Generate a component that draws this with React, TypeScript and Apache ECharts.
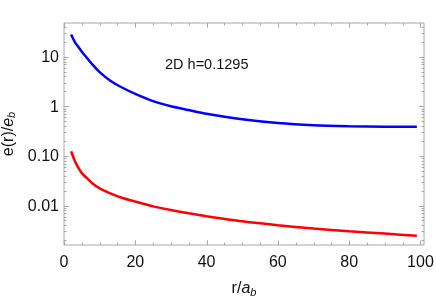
import React, { useEffect, useRef } from "react";
import * as echarts from "echarts";

// ---- data ----
const rValues = [2, 3, 4, 5, 6, 8, 10, 13, 16, 20, 25, 30, 35, 40, 50, 60, 70, 80, 90, 99];
const blueValues = [28, 20, 15.8, 12.6, 10.3, 6.9, 4.9, 3.28, 2.45, 1.78, 1.27, 1.0, 0.84, 0.71, 0.55, 0.462, 0.417, 0.397, 0.386, 0.385];
const redValues = [0.124, 0.08, 0.058, 0.045, 0.038, 0.0277, 0.0222, 0.0176, 0.0145, 0.012, 0.0096, 0.0081, 0.007, 0.0061, 0.0048, 0.004, 0.00345, 0.00302, 0.00272, 0.00245];

const xTickValues = [0, 20, 40, 60, 80, 100];
const yTickValues = [0.01, 0.1, 1, 10];
const yTickLabels = ["0.01", "0.10", "1", "10"];

const X_MIN = 0;
const X_MAX = 101;
const Y_MIN = 0.0016;
const Y_MAX = 47.8;

const annotation = "2D h=0.1295";

const FRAME = "#a6a6a6";
const FONT = "Liberation Sans";

export default function App() {
  const ref = useRef<HTMLDivElement>(null);
  useEffect(() => {
    if (!ref.current) return;
    const chart = echarts.init(ref.current, undefined, { renderer: "svg" });

    const xMinorTicks: number[] = [];
    for (let x = 0; x <= 100; x += 5) if (x % 20 !== 0) xMinorTicks.push(x);
    const yMinorTicks: number[] = [];
    for (let d = -3; d <= 1; d++) {
      for (let k = 2; k <= 9; k++) {
        const v = k * Math.pow(10, d);
        if (v > Y_MIN && v < Y_MAX) yMinorTicks.push(v);
      }
    }

    const seriesData = (ys: number[]) => rValues.map((r, i) => [r, ys[i]]);

    chart.setOption({
      animation: false,
      grid: {
        left: 64,
        right: 12,
        top: 23,
        bottom: 52,
        show: true,
        borderColor: FRAME,
        borderWidth: 1,
        containLabel: false,
        outerBoundsMode: "none",
      },
      xAxis: {
        type: "value",
        min: X_MIN,
        max: X_MAX,
        interval: 20,
        axisLine: { show: false },
        axisTick: { show: false },
        splitLine: { show: false },
        axisLabel: {
          margin: 8,
          fontSize: 16,
          fontFamily: FONT,
          color: "#111",
          formatter: (v: number) => (xTickValues.includes(v) ? String(v) : ""),
        },
        name: "{n|r/}{i|a}{s|b}",
        nameLocation: "middle",
        nameGap: 33,
        nameTextStyle: {
          rich: {
            n: { fontSize: 16, fontFamily: FONT, color: "#111" },
            i: { fontSize: 16, fontFamily: FONT, fontStyle: "italic", color: "#111" },
            s: { fontSize: 11, fontFamily: FONT, fontStyle: "italic", color: "#111", padding: [8, 0, 0, 0] },
          },
        },
      },
      yAxis: {
        type: "log",
        logBase: 10,
        min: Y_MIN,
        max: Y_MAX,
        axisLine: { show: false },
        axisTick: { show: false },
        splitLine: { show: false },
        minorTick: { show: false },
        axisLabel: {
          margin: 5,
          fontSize: 16,
          fontFamily: FONT,
          color: "#111",
          formatter: (v: number) => {
            for (let i = 0; i < yTickValues.length; i++) {
              if (Math.abs(Math.log10(v) - Math.log10(yTickValues[i])) < 1e-6) return yTickLabels[i];
            }
            return "";
          },
        },
        name: "{n|e(r)/}{i|e}{s|b}",
        nameLocation: "middle",
        nameRotate: 90,
        nameGap: 45,
        nameTextStyle: {
          rich: {
            n: { fontSize: 16, fontFamily: FONT, color: "#111" },
            i: { fontSize: 16, fontFamily: FONT, fontStyle: "italic", color: "#111" },
            s: { fontSize: 11, fontFamily: FONT, fontStyle: "italic", color: "#111", padding: [8, 0, 0, 0] },
          },
        },
      },
      graphic: [
        {
          type: "text",
          left: 165,
          top: 56,
          style: { text: annotation, fontSize: 14.5, fontFamily: FONT, fill: "#111" },
        },
      ],
      series: [
        {
          type: "line",
          data: seriesData(blueValues),
          showSymbol: false,
          smooth: 0.2,
          lineStyle: { color: "#0000ff", width: 2.5 },
          z: 3,
        },
        {
          type: "line",
          data: seriesData(redValues),
          showSymbol: false,
          smooth: 0.2,
          lineStyle: { color: "#ff0000", width: 2.5 },
          z: 3,
        },
        {
          type: "custom",
          coordinateSystem: "cartesian2d",
          silent: true,
          z: 4,
          data: [[50, 1]],
          renderItem: (_params: any, api: any) => {
            const children: any[] = [];
            const style = { stroke: FRAME, lineWidth: 1 };
            const addX = (x: number, len: number) => {
              const b = api.coord([x, Y_MIN]);
              const t = api.coord([x, Y_MAX]);
              const px = Math.round(b[0]) + 0.5;
              children.push({ type: "line", shape: { x1: px, y1: b[1], x2: px, y2: b[1] - len }, style });
              children.push({ type: "line", shape: { x1: px, y1: t[1], x2: px, y2: t[1] + len }, style });
            };
            const addY = (y: number, len: number) => {
              const l = api.coord([X_MIN, y]);
              const r = api.coord([X_MAX, y]);
              const py = Math.round(l[1]) + 0.5;
              children.push({ type: "line", shape: { x1: l[0], y1: py, x2: l[0] + len, y2: py }, style });
              children.push({ type: "line", shape: { x1: r[0], y1: py, x2: r[0] - len, y2: py }, style });
            };
            xTickValues.forEach((x) => addX(x, 4.5));
            xMinorTicks.forEach((x) => addX(x, 2.5));
            yTickValues.forEach((y) => addY(y, 4.5));
            yMinorTicks.forEach((y) => addY(y, 2.5));
            return { type: "group", children };
          },
        },
      ],
    });
    return () => chart.dispose();
  }, []);
  return (
    <div
      ref={ref}
      style={{ position: "fixed", left: 0, top: 0, width: 436, height: 297 }}
    />
  );
}
